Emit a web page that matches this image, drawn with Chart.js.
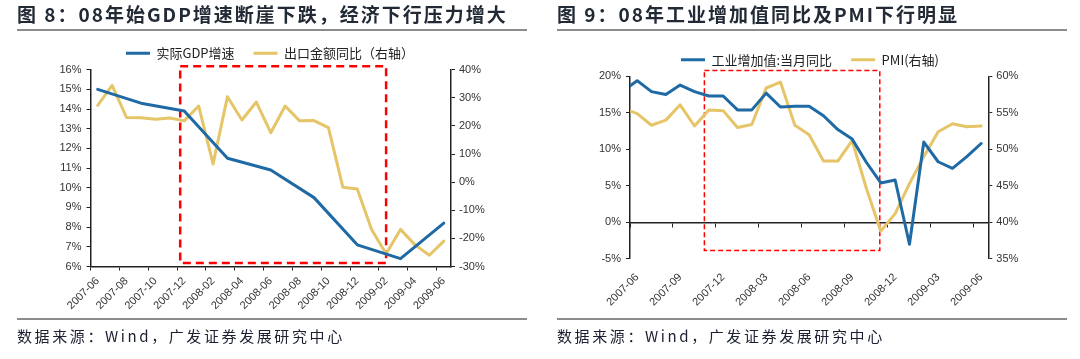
<!DOCTYPE html>
<html>
<head>
<meta charset="utf-8">
<script src="https://cdn.jsdelivr.net/npm/chart.js@4.4.0/dist/chart.umd.min.js"></script>
<style>
body { margin: 0; background: #fff; width: 1080px; height: 359px; overflow: hidden; font-family: 'Noto Sans CJK SC', sans-serif; }
.panel { position: absolute; top: 0; width: 540px; height: 359px; }
.panel canvas { position: absolute; left: 0; top: 0; }
.title { position: absolute; left: 17px; top: 1px; line-height: 26px; font-size: 19px; font-weight: bold; letter-spacing: 2px; color: #222a35; white-space: nowrap; }
.rule { position: absolute; left: 17px; width: 510px; height: 2px; background: #8c8c8c; }
.src { position: absolute; left: 17px; top: 324px; line-height: 24px; font-size: 15px; letter-spacing: 2.6px; color: #1c2030; white-space: nowrap; }
</style>
</head>
<body>
<div class="panel" style="left:0">
  <canvas id="chart1" width="540" height="359"></canvas>
  <div class="title">图 8：08年始GDP增速断崖下跌，经济下行压力增大</div>
  <div class="rule" style="top:29px"></div>
  <div class="rule" style="top:318px"></div>
  <div class="src">数据来源：Wind，广发证券发展研究中心</div>
</div>
<div class="panel" style="left:540px">
  <canvas id="chart2" width="540" height="359"></canvas>
  <div class="title">图 9：08年工业增加值同比及PMI下行明显</div>
  <div class="rule" style="top:29px"></div>
  <div class="rule" style="top:318px"></div>
  <div class="src">数据来源：Wind，广发证券发展研究中心</div>
</div>
<script>
// chart 1: GDP (quarterly, left axis) and exports (monthly, right axis)
const months1 = ['2007-06', '2007-07', '2007-08', '2007-09', '2007-10', '2007-11', '2007-12',
    '2008-01', '2008-02', '2008-03', '2008-04', '2008-05', '2008-06', '2008-07', '2008-08',
    '2008-09', '2008-10', '2008-11', '2008-12', '2009-01', '2009-02', '2009-03', '2009-04',
    '2009-05', '2009-06'];
const gdpGrowth = [15.0, null, null, 14.3, null, null, 13.9, null, null, 11.5, null, null, 10.9,
    null, null, 9.5, null, null, 7.1, null, null, 6.4, null, null, 8.2];
const exportYoY = [27.3, 34.4, 23.0, 22.9, 22.4, 22.8, 21.8, 27.1, 6.5, 30.4, 22.1, 28.5, 17.6,
    27.1, 21.8, 21.9, 19.4, -1.8, -2.4, -16.9, -25.5, -16.8, -22.3, -26.0, -21.0];

// chart 2: industrial value added (left axis) and PMI (right axis)
const months2 = ['2007-05', '2007-06', '2007-07', '2007-08', '2007-09', '2007-10', '2007-11',
    '2007-12', '2008-01', '2008-02', '2008-03', '2008-04', '2008-05', '2008-06', '2008-07',
    '2008-08', '2008-09', '2008-10', '2008-11', '2008-12', '2009-01', '2009-02', '2009-03',
    '2009-04', '2009-05', '2009-06', '2009-07'];
const ipYoY = [18.0, 19.4, 17.9, 17.5, 18.8, 17.9, 17.3, 17.3, 15.4, 15.4, 17.7, 15.8, 15.9, 15.9,
    14.6, 12.7, 11.4, 8.2, 5.4, 5.8, -3.0, 11.0, 8.3, 7.4, 9.0, 10.8, 10.8];
const pmi = [55.6, 54.9, 53.3, 54.0, 56.1, 53.2, 55.4, 55.3, 53.0, 53.4, 58.4, 59.2, 53.3, 52.0,
    48.4, 48.4, 51.2, 44.6, 38.8, 41.2, 45.3, 49.0, 52.4, 53.5, 53.1, 53.2, 53.3];

// highlighted periods (category index / axis value)
const box1 = { x0: 5.72, x1: 20, y0: 6.18, y1: 16.18 };
const box2 = { x0: 5.69, x1: 17.93, y0: -3.85, y1: 20.78 };

const BLUE = '#1f6aa5';
const GOLD = '#e5c567';
const AXIS = '#222';
const tickFont = { family: 'Liberation Sans', size: 11 };
const tickColor = '#333';

function legendLabels(chart) {
    return Chart.defaults.plugins.legend.labels.generateLabels(chart).map(function(l) {
        l.lineWidth = 0;
        return l;
    });
}

function redBox(box, width, dash) {
    return {
        id: 'redBox',
        beforeDatasetsDraw: function(chart) {
            const x = chart.scales.x, y = chart.scales.y, c = chart.ctx;
            const l = x.getPixelForValue(box.x0), r = x.getPixelForValue(box.x1);
            const t = y.getPixelForValue(box.y1), b = y.getPixelForValue(box.y0);
            c.save();
            c.strokeStyle = '#ff0000';
            c.lineWidth = width;
            c.setLineDash(dash);
            c.strokeRect(l, t, r - l, b - t);
            c.restore();
        }
    };
}

function pct(v) { return v + '%'; }

var chart1 = new Chart(document.getElementById('chart1').getContext('2d'), {
    type: 'line',
    data: {
        labels: months1,
        datasets: [{
            label: '实际GDP增速',
            data: gdpGrowth,
            borderColor: BLUE,
            backgroundColor: BLUE,
            borderWidth: 3,
            pointRadius: 0,
            spanGaps: true,
            yAxisID: 'y'
        }, {
            label: '出口金额同比（右轴）',
            data: exportYoY,
            borderColor: GOLD,
            backgroundColor: GOLD,
            borderWidth: 3,
            pointRadius: 0,
            yAxisID: 'y1'
        }]
    },
    options: {
        responsive: false,
        animation: false,
        layout: { padding: { top: 27.7, left: 0, right: 0, bottom: 0 } },
        elements: { line: { tension: 0, borderJoinStyle: 'round', borderCapStyle: 'round' } },
        scales: {
            x: {
                offset: true,
                ticks: {
                    autoSkip: false, minRotation: 45, maxRotation: 45, padding: 4,
                    color: tickColor, font: tickFont,
                    callback: function(value, index) { return index % 2 === 0 ? this.getLabelForValue(value) : ''; }
                },
                grid: {
                    offset: true, drawOnChartArea: false, tickLength: 4,
                    tickColor: function(ctx) { return ctx.index % 2 === 0 ? AXIS : 'rgba(0,0,0,0)'; }
                },
                border: { color: AXIS, width: 1.5 },
                afterFit: function(s) { s.height = 92.5; }
            },
            y: {
                position: 'left', min: 6, max: 16,
                ticks: { stepSize: 1, callback: pct, padding: 5, color: tickColor, font: tickFont },
                grid: { drawOnChartArea: false, tickLength: 4, color: AXIS },
                border: { color: AXIS, width: 1.5 },
                afterFit: function(s) { s.width = 90.5; }
            },
            y1: {
                position: 'right', min: -30, max: 40,
                ticks: { stepSize: 10, callback: pct, padding: 4, color: tickColor, font: tickFont },
                grid: { drawOnChartArea: false, tickLength: 4, color: AXIS },
                border: { color: AXIS, width: 1.5 },
                afterFit: function(s) { s.width = 89; }
            }
        },
        plugins: {
            legend: {
                labels: {
                    boxWidth: 24, boxHeight: 3, padding: 19, color: '#222',
                    font: { family: 'Noto Sans CJK SC', size: 13 },
                    generateLabels: legendLabels
                }
            },
            tooltip: { enabled: false }
        }
    },
    plugins: [redBox(box1, 2.5, [8, 5])]
});

var chart2 = new Chart(document.getElementById('chart2').getContext('2d'), {
    type: 'line',
    data: {
        labels: months2,
        datasets: [{
            label: '工业增加值:当月同比',
            data: ipYoY,
            borderColor: BLUE,
            backgroundColor: BLUE,
            borderWidth: 3,
            pointRadius: 0,
            yAxisID: 'y'
        }, {
            label: 'PMI(右轴)',
            data: pmi,
            borderColor: GOLD,
            backgroundColor: GOLD,
            borderWidth: 3,
            pointRadius: 0,
            yAxisID: 'y1'
        }]
    },
    options: {
        responsive: false,
        animation: false,
        layout: { padding: { top: 34.3, left: 0, right: 0, bottom: 0 } },
        elements: { line: { tension: 0, borderJoinStyle: 'round', borderCapStyle: 'round' } },
        scales: {
            x: {
                offset: true, min: '2007-06', max: '2009-06',
                ticks: {
                    autoSkip: false, minRotation: 45, maxRotation: 45, padding: 4,
                    color: tickColor, font: tickFont,
                    callback: function(value, index) { return index % 3 === 0 ? this.getLabelForValue(value) : ''; }
                },
                grid: { display: false },
                border: { display: false },
                afterFit: function(s) { s.height = 100.1; }
            },
            x2: {
                type: 'category', position: { y: 0 }, offset: true, min: '2007-06', max: '2009-06',
                ticks: { display: false },
                grid: {
                    offset: true, drawOnChartArea: false, tickLength: 4,
                    tickColor: function(ctx) { return ctx.index % 3 === 0 ? AXIS : 'rgba(0,0,0,0)'; }
                },
                border: { color: AXIS, width: 1.5 }
            },
            y: {
                position: 'left', min: -5, max: 20,
                ticks: { stepSize: 5, callback: pct, padding: 5, color: tickColor, font: tickFont },
                grid: { drawOnChartArea: false, tickLength: 4, color: AXIS },
                border: { color: AXIS, width: 1.5 },
                afterFit: function(s) { s.width = 90; }
            },
            y1: {
                position: 'right', min: 35, max: 60,
                ticks: { stepSize: 5, callback: pct, padding: 4, color: tickColor, font: tickFont },
                grid: { drawOnChartArea: false, tickLength: 4, color: AXIS },
                border: { color: AXIS, width: 1.5 },
                afterFit: function(s) { s.width = 91.7; }
            }
        },
        plugins: {
            legend: {
                labels: {
                    boxWidth: 24, boxHeight: 3, padding: 19, color: '#222',
                    font: { family: 'Noto Sans CJK SC', size: 13 },
                    generateLabels: legendLabels
                }
            },
            tooltip: { enabled: false }
        }
    },
    plugins: [redBox(box2, 1.5, [5, 3])]
});
</script>
</body>
</html>
